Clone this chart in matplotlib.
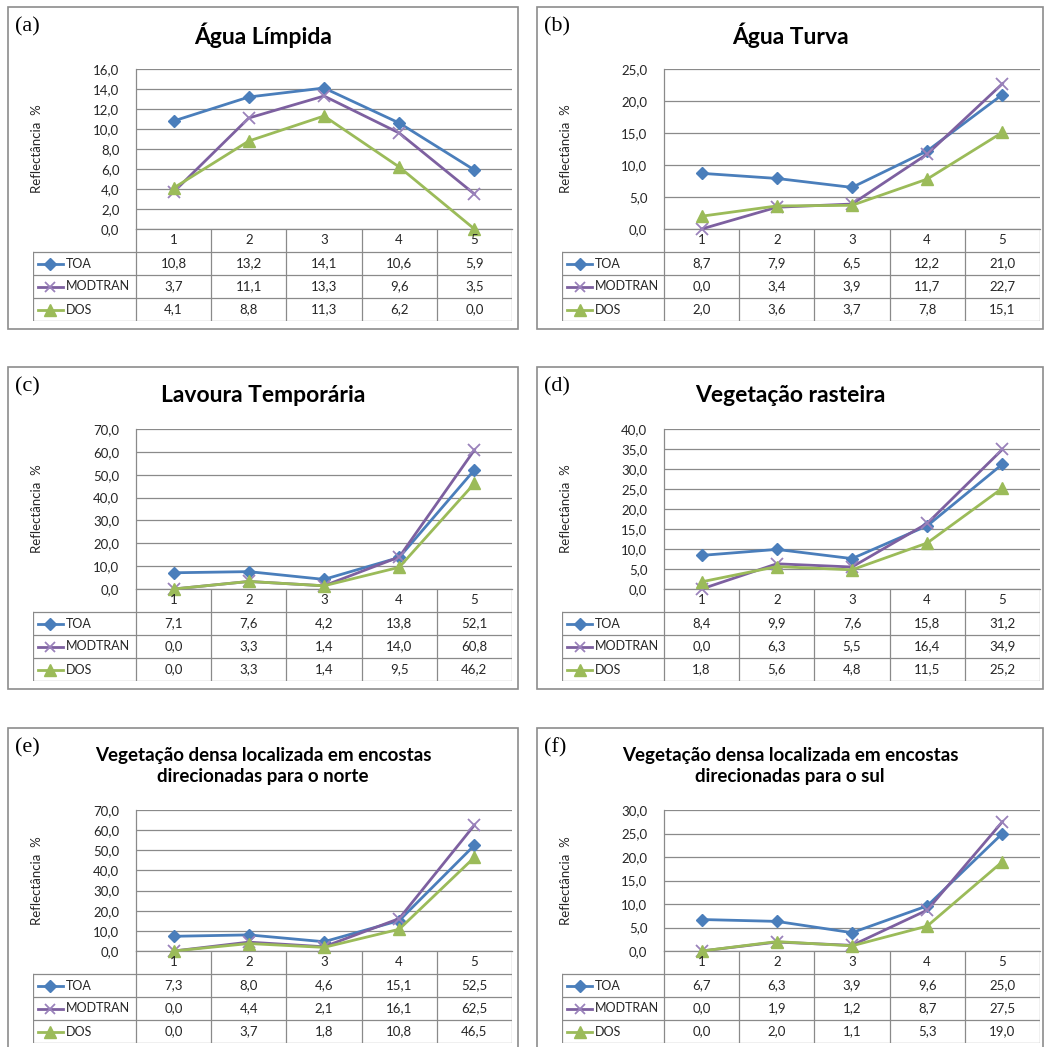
import matplotlib
matplotlib.use('Agg')
import matplotlib.pyplot as plt
from matplotlib.patches import Rectangle
from matplotlib.ticker import FuncFormatter, MultipleLocator

plt.rcParams['font.family'] = ['Lato', 'DejaVu Sans']

bands = [1, 2, 3, 4, 5]
series_names = ['TOA', 'MODTRAN', 'DOS']
panel_labels = ['(a)', '(b)', '(c)', '(d)', '(e)', '(f)']
titles = ['Água Límpida', 'Água Turva', 'Lavoura Temporária', 'Vegetação rasteira',
          'Vegetação densa localizada em encostas\ndirecionadas para o norte',
          'Vegetação densa localizada em encostas\ndirecionadas para o sul']

toa_a = [10.8, 13.2, 14.1, 10.6, 5.9]
modtran_a = [3.7, 11.1, 13.3, 9.6, 3.5]
dos_a = [4.1, 8.8, 11.3, 6.2, 0.0]

toa_b = [8.7, 7.9, 6.5, 12.2, 21.0]
modtran_b = [0.0, 3.4, 3.9, 11.7, 22.7]
dos_b = [2.0, 3.6, 3.7, 7.8, 15.1]

toa_c = [7.1, 7.6, 4.2, 13.8, 52.1]
modtran_c = [0.0, 3.3, 1.4, 14.0, 60.8]
dos_c = [0.0, 3.3, 1.4, 9.5, 46.2]

toa_d = [8.4, 9.9, 7.6, 15.8, 31.2]
modtran_d = [0.0, 6.3, 5.5, 16.4, 34.9]
dos_d = [1.8, 5.6, 4.8, 11.5, 25.2]

toa_e = [7.3, 8.0, 4.6, 15.1, 52.5]
modtran_e = [0.0, 4.4, 2.1, 16.1, 62.5]
dos_e = [0.0, 3.7, 1.8, 10.8, 46.5]

toa_f = [6.7, 6.3, 3.9, 9.6, 25.0]
modtran_f = [0.0, 1.9, 1.2, 8.7, 27.5]
dos_f = [0.0, 2.0, 1.1, 5.3, 19.0]

y_max = [16, 25, 70, 40, 70, 30]
y_step = [2, 5, 10, 5, 10, 5]

all_series = [(toa_a, modtran_a, dos_a), (toa_b, modtran_b, dos_b),
              (toa_c, modtran_c, dos_c), (toa_d, modtran_d, dos_d),
              (toa_e, modtran_e, dos_e), (toa_f, modtran_f, dos_f)]

W, H = 1045, 1047
fig = plt.figure(figsize=(W / 100, H / 100), dpi=100)

GRID = '#8a8a8a'
TEXT = '#262626'
styles = [dict(color='#4a7ebb', marker='D', ms=6.5, mec='#4a7ebb', mew=1),
          dict(color='#7d60a0', marker='x', ms=8, mec='#9a82bb', mew=1.3),
          dict(color='#9bbb59', marker='^', ms=9, mec='#9bbb59', mew=1)]

# pixel geometry: columns (frame_left, frame_right, table_left, plot_left, plot_right)
cols = [(8, 518, 33, 136, 512), (537, 1043, 562, 664, 1040)]
# rows (frame_top, frame_bottom, plot_top, plot_bottom, title_y)
rows = [(7, 329, 69, 229, 35), (367, 689, 429, 589, 395), (728, 1080, 810, 951, 766)]
row_h = 23


def px_axes(x0, y0, x1, y1):
    return fig.add_axes([x0 / W, 1 - y1 / H, (x1 - x0) / W, (y1 - y0) / H])


def comma(v, pos=None):
    return f'{v:.1f}'.replace('.', ',')


for i in range(6):
    fl, fr, tl, pl, pr = cols[i % 2]
    ft, fb, pt, pb, ty = rows[i // 2]

    fig.patches.append(Rectangle((fl / W, 1 - fb / H), (fr - fl) / W, (fb - ft) / H,
                                 transform=fig.transFigure, fill=False,
                                 ec='#8c8c8c', lw=1.2))
    fig.text((fl + 7) / W, 1 - (ft + 20) / H, panel_labels[i], family='Liberation Serif',
             fontsize=16, va='center', ha='left')
    fs = 16.5 if i < 4 else 13.5
    fig.text((fl + fr) / 2 / W, 1 - ty / H, titles[i], fontsize=fs, fontweight='bold',
             ha='center', va='center', linespacing=1.35)
    fig.text((fl + 29) / W, 1 - (pt + pb) / 2 / H, 'Reflectância  %', rotation=90,
             fontsize=9.5, color=TEXT, ha='center', va='center')

    ax = px_axes(pl, pt, pr, pb)
    ax.set_xlim(0.5, 5.5)
    ax.set_ylim(0, y_max[i])
    ax.yaxis.set_major_locator(MultipleLocator(y_step[i]))
    ax.yaxis.set_major_formatter(FuncFormatter(comma))
    ax.set_xticks([])
    ax.tick_params(axis='y', length=0, pad=12, labelsize=9.5, labelcolor=TEXT)
    ax.grid(axis='y', color=GRID, lw=0.9)
    for s in ['top', 'right']:
        ax.spines[s].set_visible(False)
    for s in ['left', 'bottom']:
        ax.spines[s].set_color(GRID)
        ax.spines[s].set_linewidth(0.9)
    ax.set_facecolor('none')
    for vals, st in zip(all_series[i], styles):
        ax.plot(bands, vals, lw=2.0, clip_on=False, zorder=5, **st)

    # data table under the plot
    ppu = (pr - pl) / 5
    x_left = 0.5 - (pl - tl) / ppu
    axt = px_axes(tl, pb, pr, pb + 4 * row_h)
    axt.set_xlim(x_left, 5.5)
    axt.set_ylim(4, 0)
    axt.axis('off')
    for k in range(6):
        axt.plot([0.5 + k] * 2, [0, 4], color=GRID, lw=0.9)
    axt.plot([x_left] * 2, [1, 4], color=GRID, lw=0.9)
    for r in range(1, 5):
        axt.plot([x_left, 5.5], [r, r], color=GRID, lw=0.9)
    for b in bands:
        axt.text(b, 0.5, str(b), ha='center', va='center', fontsize=9.5, color=TEXT)
    for r, (name, vals, st) in enumerate(zip(series_names, all_series[i], styles)):
        y = r + 1.5
        x0 = x_left + 5 / ppu
        x1 = x_left + 30 / ppu
        axt.plot([x0, x1], [y, y], lw=2.0, color=st['color'])
        axt.plot([(x0 + x1) / 2], [y], ls='none', marker=st['marker'],
                 ms=st['ms'] * 0.9, color=st['color'], mec=st['mec'], mew=st['mew'])
        axt.text(x_left + 33 / ppu, y, name, ha='left', va='center', fontsize=9, color=TEXT)
        for b, v in zip(bands, vals):
            axt.text(b, y, comma(v), ha='center', va='center', fontsize=9.5, color=TEXT)

fig.savefig('out.png', dpi=100)
